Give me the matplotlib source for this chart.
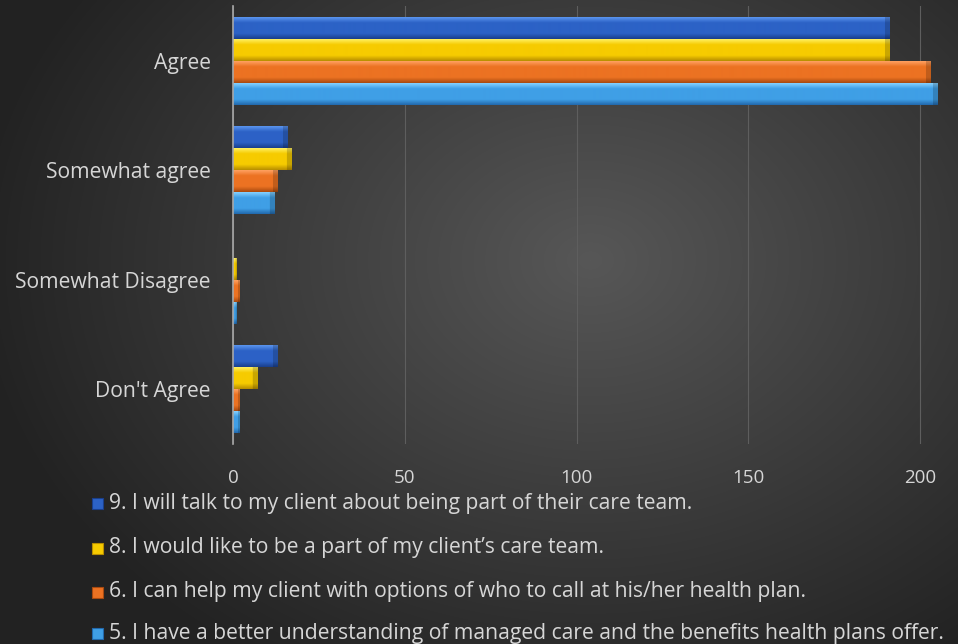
import numpy as np
import matplotlib
matplotlib.use("Agg")
import matplotlib.pyplot as plt
from matplotlib.patches import Rectangle
from matplotlib.colors import to_rgb

plt.rcParams['font.family'] = ['Open Sans', 'DejaVu Sans']

# Survey responses
categories = ["Agree", "Somewhat agree", "Somewhat Disagree", "Don't Agree"]
series_labels = [
    "9. I will talk to my client about being part of their care team.",
    "8. I would like to be a part of my client\u2019s care team.",
    "6. I can help my client with options of who to call at his/her health plan.",
    "5. I have a better understanding of managed care and the benefits health plans offer.",
]
q9 = [191, 16, 0, 13]
q8 = [191, 17, 1, 7]
q6 = [203, 13, 2, 2]
q5 = [205, 12, 1, 2]
series_values = [q9, q8, q6, q5]
x_ticks = [0, 50, 100, 150, 200]

# (top highlight, body, bottom shade) per series
palettes = [
    ("#5a94ee", "#2c62c6", "#1a3f8c"),
    ("#fff060", "#f6cb00", "#b88e00"),
    ("#ffa060", "#ec7222", "#a84a10"),
    ("#84d0ff", "#3f9fe6", "#2269ad"),
]

W, H = 958, 644
fig = plt.figure(figsize=(W / 100, H / 100), dpi=100)

# radial background
bg = fig.add_axes([0, 0, 1, 1])
yy, xx = np.mgrid[0:H, 0:W]
r = np.sqrt(((xx - 590) / 620.0) ** 2 + ((yy - 260) / 480.0) ** 2)
r = np.clip(r, 0, 1)
inner, outer = np.array(to_rgb("#575757")), np.array(to_rgb("#222222"))
img = inner[None, None, :] * (1 - r[..., None]) + outer[None, None, :] * r[..., None]
bg.imshow(img, extent=(0, W, H, 0), aspect='auto', interpolation='bilinear')
bg.set_axis_off()

left, right, top, bottom = 233, 958, 6, 444
ax = fig.add_axes([left / W, 1 - bottom / H, (right - left) / W, (bottom - top) / H])
ax.set_facecolor("none")

n = len(series_values)
bar_h = 0.2
pos = np.arange(len(categories))
px_per_unit = 3.435
xmax = (right - left) / px_per_unit


def bar_image(cols, width_px, rows=44):
    """Vertical highlight/shade gradient with a darker bevelled end cap."""
    c_top, c_mid, c_bot = (np.array(to_rgb(c)) for c in cols)
    t = np.linspace(0, 1, rows)
    col = np.zeros((rows, 3))
    for i, v in enumerate(t):
        if v < 0.25:
            f = v / 0.25
            col[i] = c_top * (1 - f) + c_mid * f
        elif v < 0.75:
            col[i] = c_mid
        else:
            f = (v - 0.75) / 0.25
            col[i] = c_mid * (1 - f) + c_bot * f
    ncols = max(int(round(width_px)), 1)
    img = np.repeat(col[:, None, :], ncols, axis=1)
    cap = min(5, ncols // 3)
    if cap > 0:
        img[:, -cap:, :] = img[:, -cap:, :] * 0.82
    return img


for k, (vals, cols) in enumerate(zip(series_values, palettes)):
    offs = (k - (n - 1) / 2) * bar_h
    bars = ax.barh(pos + offs, vals, height=bar_h, color=cols[1], zorder=3)
    for rect in bars:
        x0, y0 = rect.get_x(), rect.get_y()
        w, h = rect.get_width(), rect.get_height()
        if w <= 0:
            continue
        im = ax.imshow(bar_image(cols, w * px_per_unit),
                       extent=(x0, x0 + w, y0 + h, y0), aspect='auto',
                       interpolation='bilinear', zorder=4)
        im.set_clip_path(rect)

ax.set_xlim(0, xmax)
ax.set_ylim(len(categories) - 0.5, -0.5)
ax.set_yticks(pos)
ax.set_yticklabels(categories, fontsize=15.2)
ax.set_xticks(x_ticks)
ax.tick_params(axis='both', length=0, colors="#d6d6d6")
ax.tick_params(axis='x', pad=18, labelsize=13.5)
ax.tick_params(axis='y', pad=16)
ax.grid(axis='x', color="#5e5e5e", linewidth=0.8, zorder=0)
ax.set_axisbelow(True)
for s in ["top", "right", "bottom"]:
    ax.spines[s].set_visible(False)
ax.spines["left"].set_color("#a8a8a8")
ax.spines["left"].set_linewidth(1.2)
ax.spines["left"].set_zorder(5)

# legend rows
rows_y = [503, 548, 592, 633]
for lbl, cols, yp in zip(series_labels, palettes, rows_y):
    sq = 11
    fig.patches.append(Rectangle((92 / W, 1 - (yp + sq / 2) / H), sq / W, sq / H,
                                 transform=fig.transFigure, facecolor=cols[1],
                                 edgecolor=cols[2], linewidth=0.8))
    fig.text(109 / W, 1 - yp / H, lbl, color="#d6d6d6", fontsize=15.25,
             va='center', ha='left')

fig.savefig("out.png", dpi=100)
